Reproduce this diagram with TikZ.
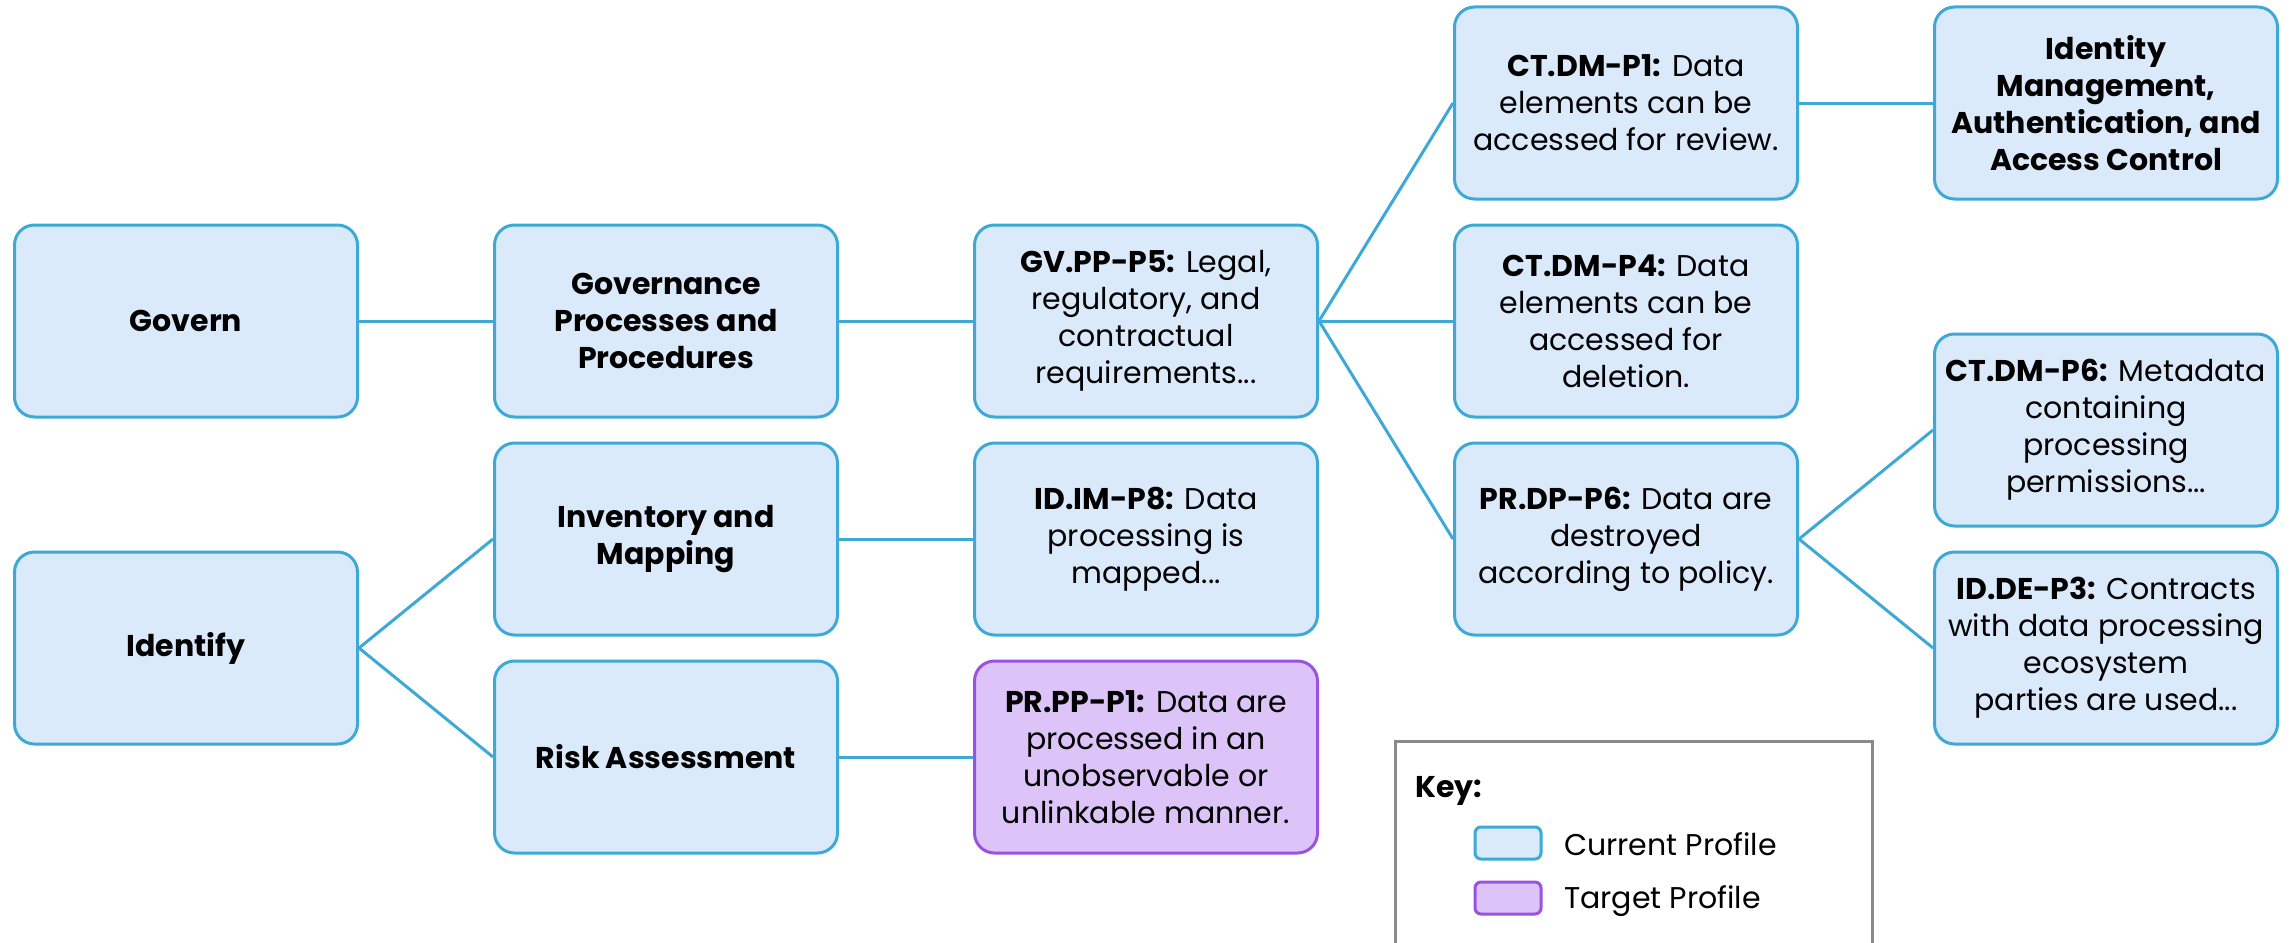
\documentclass[tikz,border=0pt]{standalone}
\usepackage{fontspec}
\setmainfont{Poppins}
\definecolor{cfill}{HTML}{DAEAFB}
\definecolor{cborder}{HTML}{3DA9D6}
\definecolor{tfill}{HTML}{DCC3F8}
\definecolor{tborder}{HTML}{9B52E2}
\definecolor{keygray}{HTML}{8A8A8A}
\begin{document}
\begin{tikzpicture}[x=1pt,y=-1pt,
  box/.style={draw=cborder, fill=cfill, line width=3pt, rounded corners=20pt,
    minimum width=343pt, minimum height=192pt, inner sep=0pt, align=center,
    font=\fontsize{30}{37}\selectfont},
  tbox/.style={box, draw=tborder, fill=tfill},
  link/.style={draw=cborder, line width=3pt},
  keyswatch/.style={draw=cborder, fill=cfill, line width=3pt, rounded corners=6pt,
    minimum width=66pt, minimum height=32pt, inner sep=0pt},
  keytext/.style={anchor=west, inner sep=0pt, font=\fontsize{30}{37}\selectfont}]
\clip (0,0) rectangle (2290,942);
\useasboundingbox (0,0) rectangle (2290,942);
\fill[white] (0,0) rectangle (2290,942);

% column 1
\node[box] (govern) at (186,321) {\textbf{Govern}};
\node[box] (identify) at (186,648) {\textbf{Identify}};
% column 2
\node[box] (gpp) at (666,321) {\textbf{Governance}\\\textbf{Processes and}\\\textbf{Procedures}};
\node[box] (inv) at (666,539) {\textbf{Inventory and}\\\textbf{Mapping}};
\node[box] (risk) at (666,757) {\textbf{Risk Assessment}};
% column 3
\node[box] (gvpp) at (1146,321) {\textbf{GV.PP-P5:} Legal,\\regulatory, and\\contractual\\requirements...};
\node[box] (idim) at (1146,539) {\textbf{ID.IM-P8:} Data\\processing is\\mapped...};
\node[tbox] (prpp) at (1146,757) {\textbf{PR.PP-P1:} Data are\\processed in an\\unobservable or\\unlinkable manner.};
% column 4
\node[box] (ctdm1) at (1626,103) {\textbf{CT.DM-P1:} Data\\elements can be\\accessed for review.};
\node[box] (ctdm4) at (1626,321) {\textbf{CT.DM-P4:} Data\\elements can be\\accessed for\\deletion.};
\node[box] (prdp) at (1626,539) {\textbf{PR.DP-P6:} Data are\\destroyed\\according to policy.};
% column 5
\node[box] (idm) at (2106,103) {\textbf{Identity}\\\textbf{Management,}\\\textbf{Authentication, and}\\\textbf{Access Control}};
\node[box] (ctdm6) at (2106,430) {\textbf{CT.DM-P6:} Metadata\\containing\\processing\\permissions...};
\node[box] (idde) at (2106,648) {\textbf{ID.DE-P3:} Contracts\\with data processing\\ecosystem\\parties are used...};

% connectors
\draw[link] (govern.east) -- (gpp.west);
\draw[link] (gpp.east) -- (gvpp.west);
\draw[link] (gvpp.east) -- (ctdm1.west);
\draw[link] (gvpp.east) -- (ctdm4.west);
\draw[link] (gvpp.east) -- (prdp.west);
\draw[link] (ctdm1.east) -- (idm.west);
\draw[link] (identify.east) -- (inv.west);
\draw[link] (identify.east) -- (risk.west);
\draw[link] (inv.east) -- (idim.west);
\draw[link] (risk.east) -- (prpp.west);
\draw[link] (prdp.east) -- (ctdm6.west);
\draw[link] (prdp.east) -- (idde.west);

% key
\draw[keygray, line width=3pt] (1395,741) rectangle (1872,990);
\node[keytext] (keytitle) at (1415,791) {\textbf{Key:}};
\node[keyswatch] (kcur) at (1508,843) {};
\node[keyswatch, draw=tborder, fill=tfill] (ktar) at (1508,898) {};
\node[keytext] (kcurt) at (1564,844) {Current Profile};
\node[keytext] (ktart) at (1564,901) {Target Profile};
\end{tikzpicture}
\end{document}
